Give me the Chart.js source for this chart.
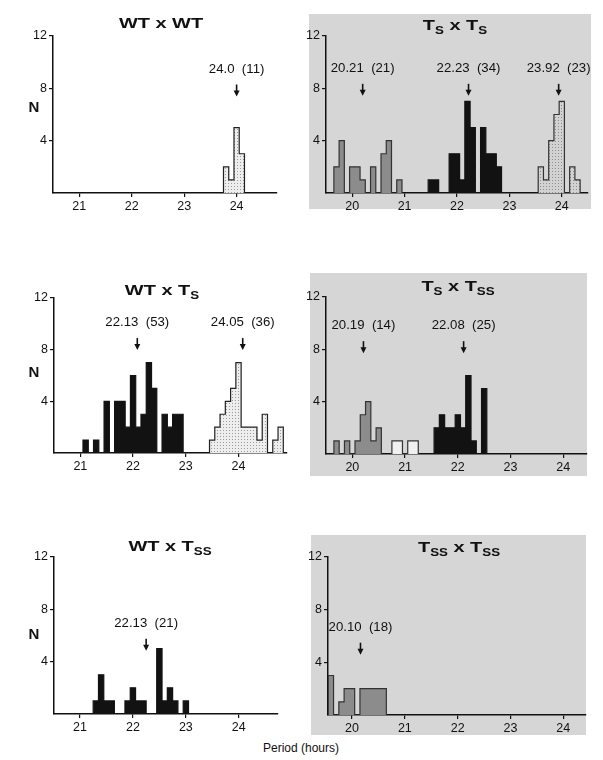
<!DOCTYPE html>
<html>
<head>
<meta charset="utf-8">
<script src="https://cdn.jsdelivr.net/npm/chart.js@4.4.1/dist/chart.umd.min.js"></script>
<style>
body { margin: 0; background: #fff; width: 603px; height: 760px; position: relative; overflow: hidden; font-family: "Liberation Sans", Arial, sans-serif; color: #111; }
.caja { position: absolute; background: #d6d6d6; }
canvas { position: absolute; }
.titulo { position: absolute; font-weight: bold; font-size: 15px; white-space: nowrap; transform: translate(-50%, -50%) scaleX(1.33); }
.titulo sub { font-size: 10px; vertical-align: -4px; }
.ene { position: absolute; font-weight: bold; font-size: 15px; transform: translate(-50%, -50%); }
.pie { position: absolute; font-size: 12px; transform: translate(-50%, -50%); white-space: nowrap; }
</style>
</head>
<body>

<div class="caja" style="left:309px;top:14px;width:282px;height:195px"></div>
<div class="caja" style="left:310px;top:273px;width:277px;height:203px"></div>
<div class="caja" style="left:311px;top:535px;width:275px;height:200px"></div>

<canvas id="g1" style="left:23px;top:26px" width="259" height="192"></canvas>
<canvas id="g2" style="left:296px;top:26px" width="297" height="192"></canvas>
<canvas id="g3" style="left:24px;top:288px" width="268" height="190"></canvas>
<canvas id="g4" style="left:296px;top:287px" width="296" height="192"></canvas>
<canvas id="g5" style="left:24px;top:547px" width="259" height="192"></canvas>
<canvas id="g6" style="left:298px;top:547px" width="293" height="193"></canvas>

<div class="titulo" style="left:161px;top:22px">WT x WT</div>
<div class="titulo" style="left:455px;top:26px">T<sub>S</sub> x T<sub>S</sub></div>
<div class="titulo" style="left:162px;top:291px">WT x T<sub>S</sub></div>
<div class="titulo" style="left:458px;top:287px">T<sub>S</sub> x T<sub>SS</sub></div>
<div class="titulo" style="left:170px;top:547px">WT x T<sub>SS</sub></div>
<div class="titulo" style="left:459px;top:548px">T<sub>SS</sub> x T<sub>SS</sub></div>

<div class="ene" style="left:34px;top:106px">N</div>
<div class="ene" style="left:34px;top:371px">N</div>
<div class="ene" style="left:34px;top:633px">N</div>

<div class="pie" style="left:301px;top:748px">Period (hours)</div>

<script>
// ticks
const ticksIzq = [21, 22, 23, 24];
const ticksDer = [20, 21, 22, 23, 24];
const ticksN = [4, 8, 12];
const anchoBin = 0.1;

// WT x WT
const wtwtBins = [23.8, 23.9, 24.0, 24.1];
const wtwtN = [2, 1, 5, 3];

// Ts x Ts
const tstsLentoBins = [19.7, 19.8, 19.9, 20.0, 20.1, 20.2, 20.3, 20.4, 20.5, 20.6, 20.7, 20.8, 20.9];
const tstsLentoN = [2, 4, 0, 2, 2, 1, 0, 2, 0, 3, 4, 0, 1];
const tstsMedioBins = [21.5, 21.6, 21.7, 21.8, 21.9, 22.0, 22.1, 22.2, 22.3, 22.4, 22.5, 22.6, 22.7, 22.8];
const tstsMedioN = [1, 1, 0, 0, 3, 3, 1, 7, 5, 0, 5, 3, 3, 2];
const tstsWtBins = [23.6, 23.7, 23.8, 23.9, 24.0, 24.1, 24.2, 24.3];
const tstsWtN = [2, 1, 4, 6, 7, 0, 2, 1];

// WT x Ts
const wttsMedioBins = [21.1, 21.2, 21.3, 21.4, 21.5, 21.6, 21.7, 21.8, 21.9, 22.0, 22.1, 22.2, 22.3, 22.4, 22.5, 22.6, 22.7, 22.8, 22.9];
const wttsMedioN = [1, 0, 1, 0, 4, 0, 4, 4, 2, 6, 2, 3, 7, 5, 0, 3, 2, 3, 3];
const wttsWtBins = [23.5, 23.6, 23.7, 23.8, 23.9, 24.0, 24.1, 24.2, 24.3, 24.4, 24.5, 24.6, 24.7, 24.8];
const wttsWtN = [1, 2, 3, 4, 5, 7, 2, 2, 2, 1, 3, 0, 1, 2];

// Ts x Tss
const tstssLentoBins = [19.7, 19.8, 19.9, 20.0, 20.1, 20.2, 20.3, 20.4, 20.5];
const tstssLentoN = [1, 0, 1, 0, 1, 3, 4, 1, 2];
const tstssBlancoBins = [20.8, 20.9, 21.0, 21.1, 21.2];
const tstssBlancoN = [1, 1, 0, 1, 1];
const tstssMedioBins = [21.6, 21.7, 21.8, 21.9, 22.0, 22.1, 22.2, 22.3, 22.4, 22.5];
const tstssMedioN = [2, 3, 2, 2, 3, 2, 6, 1, 0, 5];

// WT x Tss
const wttssBins = [21.3, 21.4, 21.5, 21.6, 21.7, 21.8, 21.9, 22.0, 22.1, 22.2, 22.3, 22.4, 22.5, 22.6, 22.7, 22.8, 22.9, 23.0];
const wttssN = [1, 3, 1, 1, 0, 0, 1, 2, 1, 1, 0, 0, 5, 1, 2, 1, 0, 1];

// Tss x Tss
const tsstssBins = [19.6, 19.7, 19.8, 19.9, 20.0, 20.1, 20.2, 20.3, 20.4, 20.5, 20.6];
const tsstssN = [3, 0, 1, 2, 2, 0, 2, 2, 2, 2, 2];

// flechas: posición, texto
const wtwtMarcas = [24.0];
const wtwtTextos = ['24.0  (11)'];
const tstsMarcas = [20.2, 22.22, 23.94];
const tstsTextos = ['20.21  (21)', '22.23  (34)', '23.92  (23)'];
const wttsMarcas = [22.08, 24.08];
const wttsTextos = ['22.13  (53)', '24.05  (36)'];
const tstssMarcas = [20.21, 22.11];
const tstssTextos = ['20.19  (14)', '22.08  (25)'];
const wttssMarcas = [22.25];
const wttssTextos = ['22.13  (21)'];
const tsstssMarcas = [20.16];
const tsstssTextos = ['20.10  (18)'];

Chart.defaults.font.family = '"Liberation Sans", Arial, sans-serif';
Chart.defaults.font.size = 12;
Chart.defaults.color = '#111';

// relleno punteado
function punteado(fondo, punto) {
    const c = document.createElement('canvas');
    c.width = 3;
    c.height = 3;
    const g = c.getContext('2d');
    g.fillStyle = fondo;
    g.fillRect(0, 0, 3, 3);
    g.fillStyle = punto;
    g.fillRect(1, 1, 1, 1);
    return g.createPattern(c, 'repeat');
}

// contorno del histograma: un punto en el borde derecho de cada bin
function escalones(bins, counts) {
    const mitad = anchoBin / 2;
    const pts = [{ x: bins[0] - mitad, y: 0 }];
    bins.forEach((b, i) => pts.push({ x: b + mitad, y: counts[i] }));
    pts.push({ x: bins[bins.length - 1] + mitad, y: 0 });
    return pts;
}

function grupo(bins, counts, relleno, borde) {
    return {
        data: escalones(bins, counts),
        stepped: 'after',
        fill: 'origin',
        backgroundColor: relleno,
        borderColor: borde,
        borderWidth: 1.2,
        pointRadius: 0,
        tension: 0
    };
}

const flechas = {
    id: 'flechas',
    afterDatasetsDraw(chart, args, opts) {
        const ctx = chart.ctx;
        const x = chart.scales.x, y = chart.scales.y;
        ctx.save();
        ctx.fillStyle = '#111';
        ctx.strokeStyle = '#111';
        ctx.font = '12px "Liberation Sans", Arial';
        ctx.textAlign = 'center';
        ctx.textBaseline = 'middle';
        opts.marcas.forEach((m, i) => {
            const px = x.getPixelForValue(m);
            const py = y.getPixelForValue(opts.alto);
            ctx.save();
            ctx.translate(px, py);
            ctx.scale(1.1, 1);
            ctx.fillText(opts.textos[i], 0, 0);
            ctx.restore();
            ctx.lineWidth = 1.6;
            ctx.beginPath();
            ctx.moveTo(px, py + 15);
            ctx.lineTo(px, py + 22);
            ctx.stroke();
            ctx.beginPath();
            ctx.moveTo(px - 3, py + 21);
            ctx.lineTo(px + 3, py + 21);
            ctx.lineTo(px, py + 27);
            ctx.closePath();
            ctx.fill();
        });
        ctx.restore();
    }
};

function crear(id, grupos, xMin, xMax, xTicks, marcas, textos, alto) {
    new Chart(document.getElementById(id), {
        type: 'line',
        data: { datasets: grupos },
        plugins: [flechas],
        options: {
            responsive: false,
            animation: false,
            layout: { padding: { top: 10, right: 5, left: 0, bottom: 0 } },
            plugins: {
                legend: { display: false },
                tooltip: { enabled: false },
                flechas: { marcas: marcas, textos: textos, alto: alto }
            },
            scales: {
                x: {
                    type: 'linear',
                    min: xMin,
                    max: xMax,
                    afterBuildTicks: s => { s.ticks = xTicks.map(v => ({ value: v })); },
                    afterFit: s => { s.height = 25; },
                    ticks: { padding: 2, maxRotation: 0, font: { size: 12.5 } },
                    grid: { drawOnChartArea: false, drawTicks: true, tickLength: 4, color: '#111', lineWidth: 1.2 },
                    border: { display: true, color: '#111', width: 1.5 }
                },
                y: {
                    min: 0,
                    max: 12,
                    afterBuildTicks: s => { s.ticks = ticksN.map(v => ({ value: v })); },
                    afterFit: s => { s.width = 30; },
                    ticks: { padding: 2, font: { size: 12.5 } },
                    grid: { drawOnChartArea: false, drawTicks: true, tickLength: 4, color: '#111', lineWidth: 1.2 },
                    border: { display: true, color: '#111', width: 1.5 }
                }
            }
        }
    });
}

const negro = '#121212';
const grisOscuro = '#8c8c8c';
const punteadoIzq = punteado('#eeeeee', '#9a9a9a');
const punteadoDer = punteado('#d2d2d2', '#8f8f8f');

crear('g1', [grupo(wtwtBins, wtwtN, punteadoIzq, '#222')], 20.5, 24.77, ticksIzq, wtwtMarcas, wtwtTextos, 9.44);

crear('g2', [
    grupo(tstsLentoBins, tstsLentoN, grisOscuro, '#333'),
    grupo(tstsMedioBins, tstsMedioN, negro, negro),
    grupo(tstsWtBins, tstsWtN, punteadoDer, '#333')
], 19.5, 24.5, ticksDer, tstsMarcas, tstsTextos, 9.49);

crear('g3', [
    grupo(wttsMedioBins, wttsMedioN, negro, negro),
    grupo(wttsWtBins, wttsWtN, punteadoIzq, '#222')
], 20.5, 24.92, ticksIzq, wttsMarcas, wttsTextos, 10.06);

crear('g4', [
    grupo(tstssLentoBins, tstssLentoN, grisOscuro, '#333'),
    grupo(tstssBlancoBins, tstssBlancoN, '#f0f0f0', '#333'),
    grupo(tstssMedioBins, tstssMedioN, negro, negro)
], 19.5, 24.45, ticksDer, tstssMarcas, tstssTextos, 9.77);

crear('g5', [grupo(wttssBins, wttssN, negro, negro)], 20.51, 24.74, ticksIzq, wttssMarcas, wttssTextos, 6.9);

crear('g6', [grupo(tsstssBins, tsstssN, grisOscuro, '#333')], 19.545, 24.43, ticksDer, tsstssMarcas, tsstssTextos, 6.63);
</script>
</body>
</html>
